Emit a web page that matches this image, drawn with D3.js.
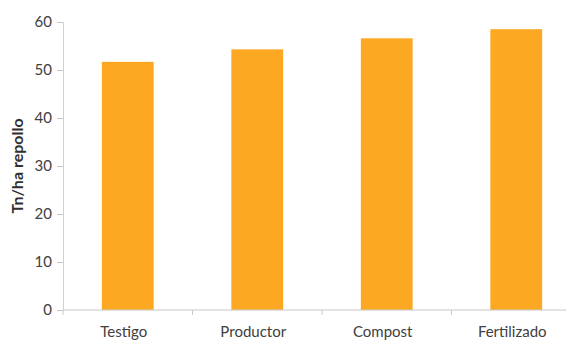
<!DOCTYPE html>
<html><head><meta charset="utf-8">
<script src="https://cdn.jsdelivr.net/npm/d3@7"></script>
<style>body{margin:0;background:#fff}svg{display:block}</style>
</head><body>
<svg id="c" width="566" height="342"></svg>
<script>
const categories = ["Testigo", "Productor", "Compost", "Fertilizado"];
const values = [51.7, 54.3, 56.6, 58.5];
const yTicks = [0, 10, 20, 30, 40, 50, 60];
const yLabel = "Tn/ha repollo";

const svg = d3.select("#c");
const font = "Lato, 'Open Sans', sans-serif";
const x0 = 63, y0 = 310, yTop = 22;
const bandW = 129.5;
const x = d3.scaleBand().domain(categories).range([x0, x0 + bandW * 4]).paddingInner(0.6).paddingOuter(0.3);
const y = d3.scaleLinear().domain([0, 60]).range([y0, yTop]);

svg.selectAll("rect.bar").data(values).enter().append("rect")
  .attr("x", (d, i) => x(categories[i]))
  .attr("width", x.bandwidth())
  .attr("y", d => y(d))
  .attr("height", d => y0 - y(d))
  .attr("fill", "#FDA822");

// y axis
const yAxis = d3.axisLeft(y).tickValues(yTicks).tickSize(6).tickPadding(5);
const gy = svg.append("g").attr("transform", `translate(${x0},0)`).call(yAxis);
gy.select(".domain").attr("stroke", "#d0d0d0");
gy.selectAll(".tick line").attr("stroke", "#c8c8c8");
gy.selectAll(".tick text").attr("font-family", font).attr("font-size", 15).attr("fill", "#404040");

// x axis
const gx = svg.append("g").attr("transform", `translate(0,${y0})`);
gx.append("line").attr("x1", x0).attr("x2", 566).attr("stroke", "#c8c8c8");
const bounds = d3.range(0, 5).map(i => x0 + i * bandW);
gx.selectAll("line.t").data(bounds).enter().append("line")
  .attr("x1", d => d).attr("x2", d => d).attr("y1", 0).attr("y2", 5).attr("stroke", "#c8c8c8");
gx.selectAll("text").data(categories).enter().append("text")
  .attr("x", d => x(d) + x.bandwidth() / 2 - 4)
  .attr("y", 27)
  .attr("text-anchor", "middle")
  .attr("font-family", font).attr("font-size", 15).attr("fill", "#404040")
  .text(d => d);

svg.append("text")
  .attr("transform", `translate(23,${(y0 + yTop) / 2}) rotate(-90)`)
  .attr("text-anchor", "middle")
  .attr("font-family", font).attr("font-size", 16).attr("font-weight", "bold").attr("fill", "#303030")
  .text(yLabel);
</script>
</body></html>
